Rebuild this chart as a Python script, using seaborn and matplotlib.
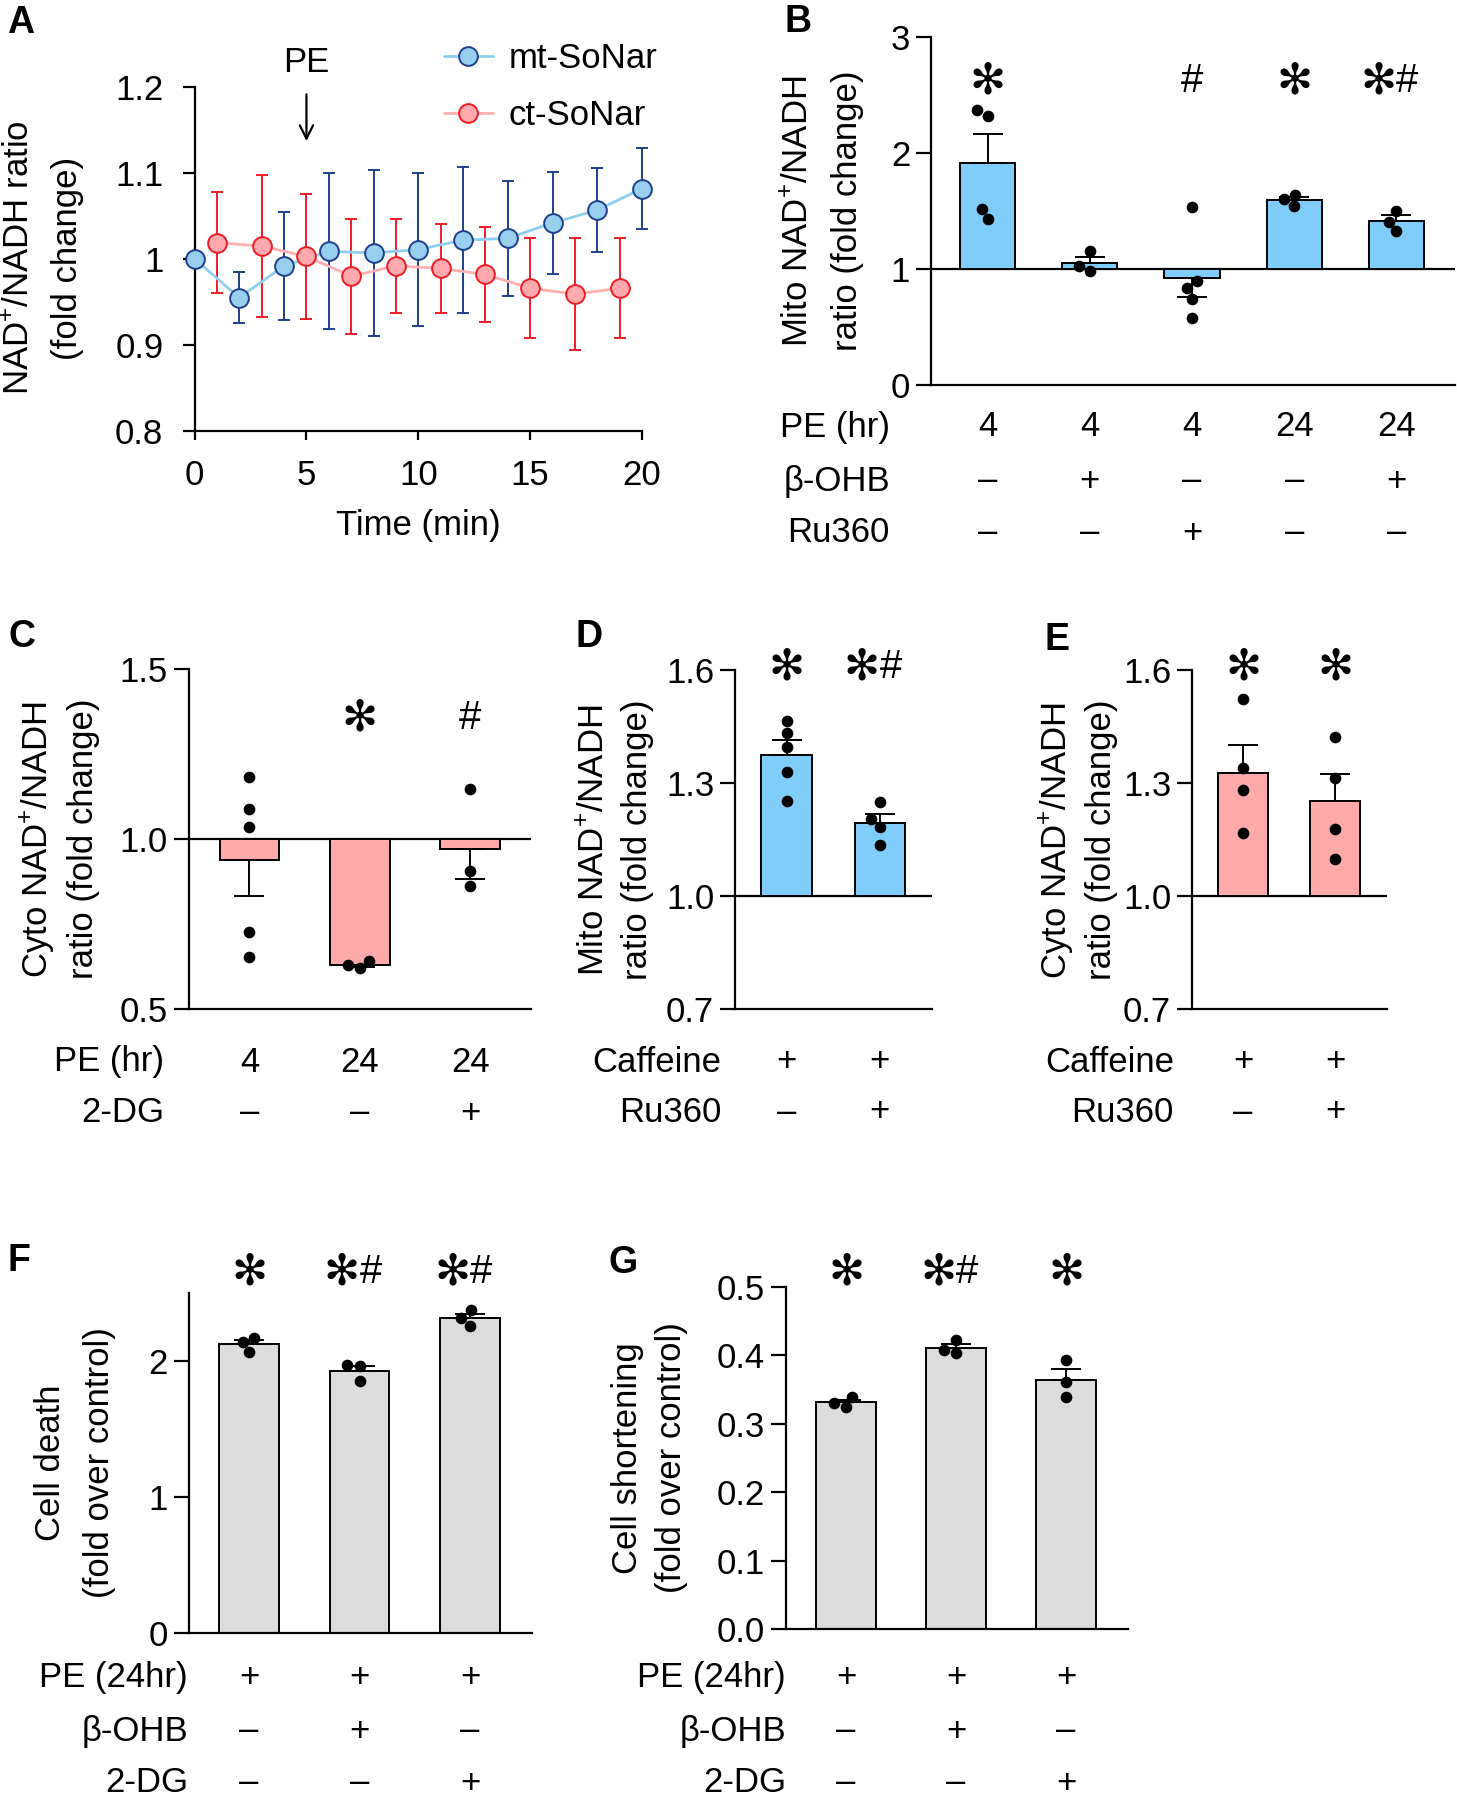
import numpy as np
import pandas as pd
import matplotlib
matplotlib.use("Agg")
import matplotlib.pyplot as plt
import matplotlib.transforms as mtransforms
import seaborn as sns

# ---------------- data ----------------
# A: SoNar time course (mean, SEM)
mt_time = [0, 2, 4, 6, 8, 10, 12, 14, 16, 18, 20]
mt_ratio = [1.000, 0.955, 0.992, 1.009, 1.007, 1.011, 1.022, 1.024, 1.042, 1.057, 1.082]
mt_sem = [0.0, 0.030, 0.063, 0.091, 0.097, 0.089, 0.085, 0.067, 0.059, 0.049, 0.047]
ct_time = [1, 3, 5, 7, 9, 11, 13, 15, 17, 19]
ct_ratio = [1.019, 1.015, 1.003, 0.980, 0.992, 0.989, 0.982, 0.966, 0.959, 0.966]
ct_sem = [0.059, 0.083, 0.073, 0.067, 0.055, 0.052, 0.055, 0.058, 0.065, 0.058]

# B: mito ratio, individual points per bar
b_points = [[2.375, 2.32, 1.52, 1.43], [1.154, 0.987, 1.03],
            [1.537, 0.90, 0.838, 0.745, 0.581], [1.54, 1.64, 1.60], [1.50, 1.41, 1.33]]
b_pe = ["4", "4", "4", "24", "24"]
b_ohb = ["–", "+", "–", "–", "+"]
b_ru = ["–", "–", "+", "–", "–"]
b_marks = ["*", "", "#", "*", "*#"]

# C: cyto ratio
c_points = [[1.184, 1.088, 1.035, 0.728, 0.655], [0.622, 0.643, 0.629], [1.148, 0.905, 0.863]]
c_pe = ["4", "24", "24"]
c_dg = ["–", "–", "+"]
c_marks = ["", "*", "#"]

# D: mito ratio with caffeine
d_points = [[1.465, 1.432, 1.397, 1.329, 1.253], [1.251, 1.205, 1.184, 1.135]]
d_caf = ["+", "+"]
d_ru = ["–", "+"]
d_marks = ["*", "*#"]

# E: cyto ratio with caffeine
e_points = [[1.523, 1.339, 1.283, 1.167], [1.423, 1.313, 1.177, 1.099]]
e_caf = ["+", "+"]
e_ru = ["–", "+"]
e_marks = ["*", "*"]

# F: cell death
f_points = [[2.136, 2.164, 2.063], [1.962, 1.967, 1.850], [2.368, 2.313, 2.253]]
# G: cell shortening
g_points = [[0.3245, 0.339, 0.330], [0.404, 0.422, 0.4076], [0.3935, 0.3603, 0.3397]]
fg_pe = ["+", "+", "+"]
fg_ohb = ["–", "+", "–"]
fg_dg = ["–", "–", "+"]
f_marks = ["*", "*#", "*#"]
g_marks = ["*", "*#", "*"]

# ---------------- style ----------------
sns.set_theme(style="ticks", rc={
    "axes.edgecolor": "black", "xtick.color": "black", "ytick.color": "black",
    "text.color": "black", "axes.labelcolor": "black", "axes.linewidth": 1.6,
})
plt.rcParams["font.family"] = ["Liberation Sans", "DejaVu Sans"]
plt.rcParams["font.size"] = 25
plt.rcParams["mathtext.fontset"] = "custom"
plt.rcParams["mathtext.rm"] = "Liberation Sans"
plt.rcParams["mathtext.it"] = "Liberation Sans:italic"
plt.rcParams["mathtext.bf"] = "Liberation Sans:bold"

BLUE = "#80CCFA"
PINK = "#FFAAAA"
GREY = "#DCDCDC"
FS = 25

W, H = 1457, 1800
fig = plt.figure(figsize=(W / 100, H / 100), dpi=100)


def fy(py):
    return 1 - py / H


def add_panel(left, top, right, bottom):
    return fig.add_axes([left / W, 1 - bottom / H, (right - left) / W, (bottom - top) / H])


def ylabel2(x1, x2, yc, line1, line2):
    fig.text(x1 / W, fy(yc), line1, rotation=90, ha="center", va="center", fontsize=FS)
    fig.text(x2 / W, fy(yc), line2, rotation=90, ha="center", va="center", fontsize=FS)


def panel_letter(x, y, s):
    fig.text(x / W, fy(y), s, ha="center", va="center", fontsize=27, fontweight="bold")


def bar_panel(ax, points, rows, base, color, xlim, ylim, yticks, yticklabels):
    groups = ["|".join(col) for col in zip(*rows)]
    df = pd.DataFrame([(g, v) for g, vals in zip(groups, points) for v in vals],
                      columns=["group", "value"])
    df["delta"] = df["value"] - base
    sns.barplot(data=df, x="group", y="delta", order=groups, errorbar=None,
                color=color, saturation=1, width=0.54, edgecolor="black",
                linewidth=1.4, bottom=base, ax=ax, zorder=1)
    stats = df.groupby("group", sort=False)["value"].agg(["mean", "sem"]).reindex(groups)
    up = np.where(stats["mean"] >= base, stats["sem"], 0)
    down = np.where(stats["mean"] < base, stats["sem"], 0)
    ax.errorbar(np.arange(len(groups)), stats["mean"], yerr=[down, up], fmt="none",
                ecolor="black", elinewidth=1.4, capsize=11, capthick=1.4, zorder=2)
    sns.swarmplot(data=df, x="group", y="value", order=groups, color="black",
                  size=8.4, linewidth=0, ax=ax, zorder=3)
    if base > ylim[0]:
        ax.axhline(base, color="black", lw=1.6, zorder=0.5)
    ax.set_xlabel("")
    ax.set_ylabel("")
    ax.set_xticks([])
    ax.set_xlim(*xlim)
    ax.set_ylim(*ylim)
    ax.set_yticks(yticks)
    ax.set_yticklabels(yticklabels, fontsize=FS)
    ax.tick_params(axis="y", length=11, width=1.6, pad=4)
    sns.despine(ax=ax)


def cond_rows(ax, names, rows, ys, name_x):
    tr = mtransforms.blended_transform_factory(ax.transData, fig.transFigure)
    for name, vals, y in zip(names, rows, ys):
        fig.text(name_x / W, fy(y), name, ha="right", va="center", fontsize=FS)
        for j, v in enumerate(vals):
            ax.text(j, fy(y), v, transform=tr, ha="center", va="center", fontsize=FS)


def sig_marks(ax, marks, y):
    tr = mtransforms.blended_transform_factory(ax.transData, fig.transFigure)
    star = dict(transform=tr, va="center", fontsize=31, family="DejaVu Sans")
    hash_ = dict(transform=tr, va="center", fontsize=29, family="Liberation Sans")
    for j, m in enumerate(marks):
        if m == "*":
            ax.text(j, fy(y), "✻", ha="center", **star)
        elif m == "#":
            ax.text(j, fy(y), "#", ha="center", **hash_)
        elif m == "*#":
            ax.text(j, fy(y), "✻", ha="right", **star)
            ax.text(j, fy(y), "#", ha="left", **hash_)


# ---------------- A ----------------
ax = add_panel(194.6, 87.2, 642, 430.8)
mt = pd.DataFrame({"time": mt_time, "ratio": mt_ratio, "sem": mt_sem})
ct = pd.DataFrame({"time": ct_time, "ratio": ct_ratio, "sem": ct_sem})
ax.errorbar(mt["time"], mt["ratio"], yerr=mt["sem"], fmt="none", ecolor="#1F3F8C",
            elinewidth=1.4, capsize=4.5, capthick=1.4, zorder=2, clip_on=False)
ax.errorbar(ct["time"], ct["ratio"], yerr=ct["sem"], fmt="none", ecolor="#EE1C25",
            elinewidth=1.4, capsize=4.5, capthick=1.4, zorder=2, clip_on=False)
sns.lineplot(data=mt, x="time", y="ratio", color="#8DCFEF", lw=2, marker="o",
             markersize=13.5, markerfacecolor="#99CFEE", markeredgecolor="#1F3F8C",
             markeredgewidth=1.4, ax=ax, label="mt-SoNar", zorder=3, clip_on=False)
sns.lineplot(data=ct, x="time", y="ratio", color="#FFB0B0", lw=2, marker="o",
             markersize=13.5, markerfacecolor="#FFA8AE", markeredgecolor="#EE1C25",
             markeredgewidth=1.4, ax=ax, label="ct-SoNar", zorder=3, clip_on=False)
ax.set_xlim(0, 20)
ax.set_ylim(0.8, 1.2)
ax.set_xticks([0, 5, 10, 15, 20])
ax.set_yticks([0.8, 0.9, 1.0, 1.1, 1.2])
ax.set_yticklabels(["0.8", "0.9", "1", "1.1", "1.2"], fontsize=FS)
ax.set_xticklabels(["0", "5", "10", "15", "20"], fontsize=FS)
ax.tick_params(axis="y", length=8.5, width=1.6, pad=14)
ax.tick_params(axis="x", length=6.5, width=1.6, pad=14)
ax.set_xlabel("Time (min)", fontsize=FS, labelpad=12)
ax.set_ylabel("")
sns.despine(ax=ax)
ax.legend(loc="center left", bbox_to_anchor=(444 / W, fy(87)), bbox_transform=fig.transFigure,
          frameon=False, fontsize=FS, handlelength=1.4, handletextpad=0.45,
          labelspacing=0.7, borderpad=0, borderaxespad=0)
ax.annotate("", xy=(5, 1.134), xytext=(5, 1.195),
            arrowprops=dict(arrowstyle="->", lw=1.6, color="black", mutation_scale=24),
            annotation_clip=False)
ax.text(5, fy(62), "PE", transform=mtransforms.blended_transform_factory(ax.transData, fig.transFigure),
        ha="center", va="center", fontsize=FS)
ylabel2(20, 68, 258, "NAD$^{+}$/NADH ratio", "(fold change)")
panel_letter(21, 23, "A")

# ---------------- B ----------------
ax = add_panel(931, 37, 1454.6, 385.2)
bar_panel(ax, b_points, [b_pe, b_ohb, b_ru], 1.0, BLUE, (-0.555, 4.57), (0, 3),
          [0, 1, 2, 3], ["0", "1", "2", "3"])
sig_marks(ax, b_marks, 81)
cond_rows(ax, ["PE (hr)", "β-OHB", "Ru360"], [b_pe, b_ohb, b_ru], [427, 481, 533], 890)
ylabel2(798, 847, 211, "Mito NAD$^{+}$/NADH", "ratio (fold change)")
panel_letter(798, 21.5, "B")

# ---------------- C ----------------
ax = add_panel(188.5, 669, 531, 1009.3)
bar_panel(ax, c_points, [c_pe, c_dg], 1.0, PINK, (-0.552, 2.552), (0.5, 1.5),
          [0.5, 1.0, 1.5], ["0.5", "1.0", "1.5"])
sig_marks(ax, c_marks, 718)
cond_rows(ax, ["PE (hr)", "2-DG"], [c_pe, c_dg], [1062, 1113], 164)
ylabel2(38, 84, 839, "Cyto NAD$^{+}$/NADH", "ratio (fold change)")
panel_letter(21.5, 637, "C")

# ---------------- D ----------------
ax = add_panel(735, 670, 932, 1009.3)
bar_panel(ax, d_points, [d_caf, d_ru], 1.0, BLUE, (-0.553, 1.561), (0.7, 1.6),
          [0.7, 1.0, 1.3, 1.6], ["0.7", "1.0", "1.3", "1.6"])
sig_marks(ax, d_marks, 667)
cond_rows(ax, ["Caffeine", "Ru360"], [d_caf, d_ru], [1062, 1112], 721)
ylabel2(595, 637, 840, "Mito NAD$^{+}$/NADH", "ratio (fold change)")
panel_letter(589, 637, "D")

# ---------------- E ----------------
ax = add_panel(1192, 670, 1386.7, 1009.3)
bar_panel(ax, e_points, [e_caf, e_ru], 1.0, PINK, (-0.553, 1.558), (0.7, 1.6),
          [0.7, 1.0, 1.3, 1.6], ["0.7", "1.0", "1.3", "1.6"])
sig_marks(ax, e_marks, 667)
cond_rows(ax, ["Caffeine", "Ru360"], [e_caf, e_ru], [1062, 1112], 1174)
ylabel2(1057, 1102, 840, "Cyto NAD$^{+}$/NADH", "ratio (fold change)")
panel_letter(1057, 640, "E")

# ---------------- F ----------------
ax = add_panel(188.5, 1292.5, 531.5, 1633.4)
bar_panel(ax, f_points, [fg_pe, fg_ohb, fg_dg], 0.0, GREY, (-0.548, 2.557), (0, 2.5),
          [0, 1, 2], ["0", "1", "2"])
sig_marks(ax, f_marks, 1272)
cond_rows(ax, ["PE (24hr)", "β-OHB", "2-DG"], [fg_pe, fg_ohb, fg_dg], [1677, 1731, 1783], 188)
ylabel2(50, 100, 1463, "Cell death", "(fold over control)")
panel_letter(19, 1261, "F")

# ---------------- G ----------------
ax = add_panel(785.6, 1286.9, 1127.7, 1629)
bar_panel(ax, g_points, [fg_pe, fg_ohb, fg_dg], 0.0, GREY, (-0.549, 2.561), (0, 0.5),
          [0, 0.1, 0.2, 0.3, 0.4, 0.5], ["0.0", "0.1", "0.2", "0.3", "0.4", "0.5"])
sig_marks(ax, g_marks, 1272)
cond_rows(ax, ["PE (24hr)", "β-OHB", "2-DG"], [fg_pe, fg_ohb, fg_dg], [1677, 1731, 1783], 786)
ylabel2(627, 672, 1458, "Cell shortening", "(fold over control)")
panel_letter(623, 1263, "G")

fig.savefig("out.png", dpi=100)
